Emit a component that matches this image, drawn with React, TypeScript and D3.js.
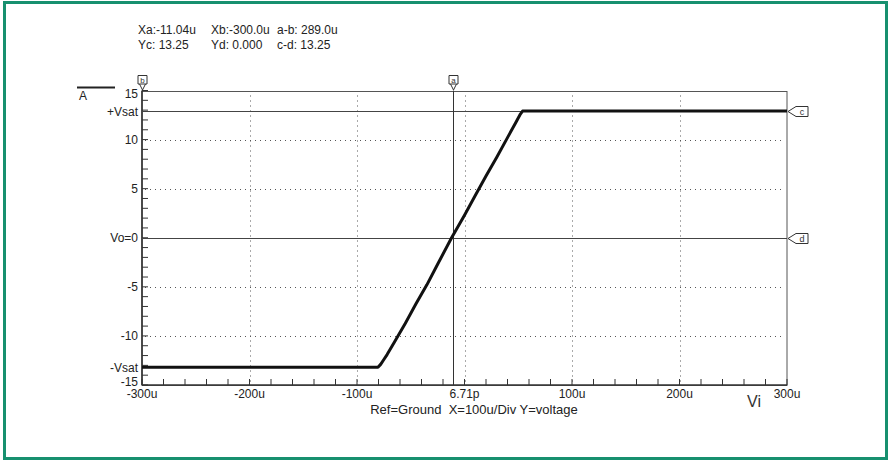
import React from "react";
import * as d3 from "d3";

// ---- data (micro-volts on x, volts on y) ----
const traceVi = [-300, -80.5, -78, -75, -72, -65, -55, -45, -35, -25, -12, 0, 10, 20, 30, 40, 48, 52, 54, 300];
const traceVo = [-13.2, -13.2, -12.9, -12.4, -11.9, -10.6, -8.7, -6.7, -4.8, -2.7, 0, 2.3, 4.3, 6.3, 8.2, 10.2, 11.8, 12.6, 12.9, 12.9];

const xTickValues = [-300, -200, -100, 0, 100, 200, 300];
const xTickLabels = ["-300u", "-200u", "-100u", "6.71p", "100u", "200u", "300u"];
const yTickValues = [15, 12.9, 10, 5, 0, -5, -10, -13.2, -15];
const yTickLabels = ["15", "+Vsat", "10", "5", "Vo=0", "-5", "-10", "-Vsat", "-15"];
const xGridValues = [-200, -100, 0, 100, 200];
const yGridValues = [10, 5, -5, -10];

const cursorA = -11.04;
const cursorB = -300;
const cursorC = 12.9;
const cursorD = 0;

const readoutRow1 = ["Xa:-11.04u", "Xb:-300.0u", "a-b: 289.0u"];
const readoutRow2 = ["Yc: 13.25", "Yd: 0.000", "c-d: 13.25"];
const footer = "Ref=Ground  X=100u/Div Y=voltage";

const FONT = "Arial, 'Liberation Sans', sans-serif";

export default function App() {
  const left = 142, right = 787, top = 90.5, bottom = 385;
  const x = d3.scaleLinear().domain([-300, 300]).range([left, right]);
  const y = d3.scaleLinear().domain([-15, 15]).range([bottom, top]);

  const pts: [number, number][] = traceVi.map((v, i) => [v, traceVo[i]]);
  const line = d3.line<[number, number]>().x((d) => x(d[0])).y((d) => y(d[1]));

  const xMinor = d3.range(-300, 301, 20);
  const yMinor = d3.range(-15, 16, 1);
  const axisColor = "#333";

  const topMarker = (xv: number, label: string) => {
    const cx = Math.round(x(xv)) + 0.5;
    return (
      <g key={label}>
        <path d={`M${cx - 4.5},75.5 H${cx + 4.5} V84 H${cx - 4.5} Z`} fill="white" stroke="#333" strokeWidth={1} />
        <path d={`M${cx - 3},84 L${cx},90 L${cx + 3},84`} fill="none" stroke="#333" strokeWidth={1} />
        <text x={cx} y={83} fontSize={8} textAnchor="middle" fontFamily={FONT} fill="#333">{label}</text>
      </g>
    );
  };
  const rightMarker = (yv: number, label: string) => {
    const cy = Math.round(y(yv)) + 0.5;
    return (
      <g key={label}>
        <path d={`M788,${cy} L796,${cy - 5} L808,${cy - 5} L808,${cy + 5} L796,${cy + 5} Z`} fill="white" stroke="#333" strokeWidth={1} />
        <text x={802} y={cy + 3.5} fontSize={9} textAnchor="middle" fontFamily={FONT} fill="#333">{label}</text>
      </g>
    );
  };

  return (
    <svg width={891} height={462} style={{ position: "absolute", left: 0, top: 0, background: "white" }}>
      <rect x={4.5} y={2.5} width={882} height={456} fill="white" stroke="#17906f" strokeWidth={3} />

      {/* readout */}
      {[readoutRow1, readoutRow2].map((row, ri) =>
        row.map((t, i) => (
          <text key={`${ri}-${i}`} x={[138, 211, 277][i]} y={34 + ri * 15} fontSize={12} fontFamily={FONT} fill="#222" style={{ whiteSpace: "pre" }}>{t}</text>
        ))
      )}

      {/* legend A */}
      <line x1={77} x2={115} y1={87.5} y2={87.5} stroke="#222" strokeWidth={2} />
      <text x={79} y={100} fontSize={12} fontFamily={FONT} fill="#222">A</text>

      {/* grid */}
      {xGridValues.map((v) => (
        <line key={`gx${v}`} x1={Math.round(x(v)) + 0.5} x2={Math.round(x(v)) + 0.5} y1={top + 5} y2={bottom - 2} stroke="#555" strokeWidth={1} strokeDasharray="1,4" />
      ))}
      {yGridValues.map((v) => (
        <line key={`gy${v}`} x1={left + 3} x2={right - 3} y1={Math.round(y(v)) + 0.5} y2={Math.round(y(v)) + 0.5} stroke="#555" strokeWidth={1} strokeDasharray="1,4" />
      ))}

      {/* frame */}
      <rect x={left} y={Math.round(top) + 0.5} width={right - left} height={bottom - Math.round(top)} fill="none" stroke="#555" strokeWidth={1} />
      <line x1={left} x2={left} y1={top} y2={bottom} stroke={axisColor} strokeWidth={1.6} />
      <line x1={left} x2={right} y1={bottom} y2={bottom} stroke={axisColor} strokeWidth={1.6} />

      {/* ticks */}
      {xMinor.map((v) => (
        <line key={`tx${v}`} x1={x(v)} x2={x(v)} y1={bottom} y2={bottom - 6} stroke={axisColor} strokeWidth={1} />
      ))}
      {yMinor.map((v) => (
        <line key={`ty${v}`} x1={left} x2={left + 6} y1={y(v)} y2={y(v)} stroke={axisColor} strokeWidth={1} />
      ))}

      {/* cursor lines */}
      <line x1={left} x2={right} y1={Math.round(y(cursorC)) + 0.5} y2={Math.round(y(cursorC)) + 0.5} stroke="#444" strokeWidth={1} />
      <line x1={left} x2={right} y1={Math.round(y(cursorD)) + 0.5} y2={Math.round(y(cursorD)) + 0.5} stroke="#444" strokeWidth={1} />
      <line x1={Math.round(x(cursorA)) + 0.5} x2={Math.round(x(cursorA)) + 0.5} y1={top} y2={bottom} stroke="#333" strokeWidth={1} />

      {/* trace */}
      <path d={line(pts) || ""} fill="none" stroke="#111" strokeWidth={3} strokeLinejoin="round" />

      {/* markers */}
      {topMarker(cursorB, "b")}
      {topMarker(cursorA, "a")}
      {rightMarker(cursorC, "c")}
      {rightMarker(cursorD, "d")}

      {/* y labels */}
      {yTickValues.map((v, i) => (
        <text key={`yl${i}`} x={138} y={y(v) + 4.5 + (v === 15 ? 3 : v === -15 ? -3.5 : 0)} fontSize={12} textAnchor="end" fontFamily={FONT} fill="#222">{yTickLabels[i]}</text>
      ))}

      {/* x labels */}
      {xTickValues.map((v, i) => (
        <text key={`xl${i}`} x={x(v)} y={398} fontSize={12} textAnchor="middle" fontFamily={FONT} fill="#222">{xTickLabels[i]}</text>
      ))}
      <text x={754} y={407} fontSize={16} textAnchor="middle" fontFamily={FONT} fill="#333">Vi</text>
      <text x={474} y={414} fontSize={13} textAnchor="middle" fontFamily={FONT} fill="#222" style={{ whiteSpace: "pre" }}>{footer}</text>
    </svg>
  );
}
